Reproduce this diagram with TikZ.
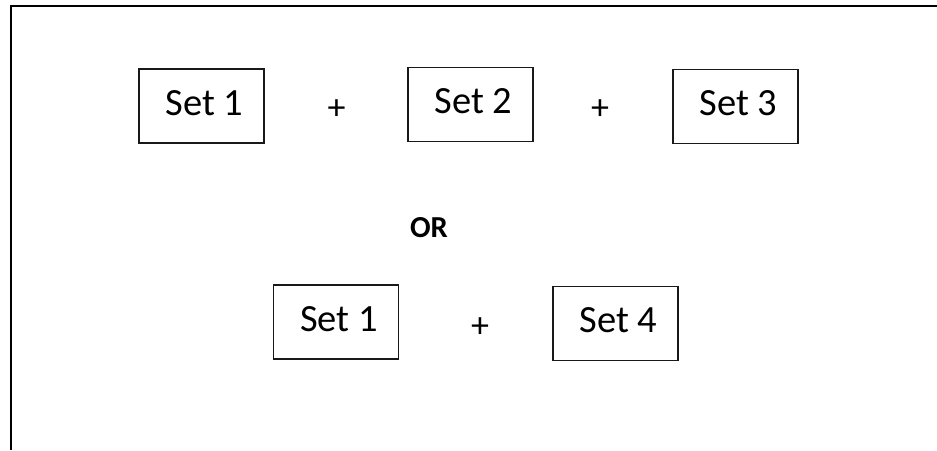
\documentclass[tikz,border=0pt]{standalone}
\usepackage{fontspec}
\setmainfont{Carlito}
\begin{document}
\begin{tikzpicture}[x=1pt,y=-1pt,
  setbox/.style={draw=black!90,line width=1.2pt,minimum width=125pt,minimum height=74pt,inner sep=0pt,
    font=\fontsize{38.5}{40}\selectfont},
  plussign/.style={inner sep=0pt,font=\fontsize{36}{38}\selectfont},
  orlabel/.style={inner sep=0pt,font=\fontsize{30.5}{32}\bfseries\selectfont},
  frameline/.style={line width=2pt,black}]
\useasboundingbox (0,0) rectangle (937,450);
\coordinate (ftr) at (937,5.5);
\coordinate (ftl) at (11,5.5);
\coordinate (fbl) at (11,450);
\draw[frameline] (ftr) -- (ftl) -- (fbl);
\newcommand{\settext}[1]{\hspace*{6pt}#1\rule[-6pt]{0pt}{6pt}}
\node[setbox] (a) at (201.5,106) {\settext{Set 1}};
\node[setbox] (b) at (470.5,104.5) {\settext{Set 2}};
\node[setbox] (c) at (735.5,106.5) {\settext{Set 3}};
\node[setbox] (d) at (336,322) {\settext{Set 1}};
\node[setbox] (e) at (615.5,323.5) {\settext{Set 4}};
\node[plussign] (p1) at (336.7,109.7) {+};
\node[plussign] (p2) at (600,110) {+};
\node[plussign] (p3) at (480,327.5) {+};
\node[orlabel] (or) at (429,227.5) {OR};
\end{tikzpicture}
\end{document}
